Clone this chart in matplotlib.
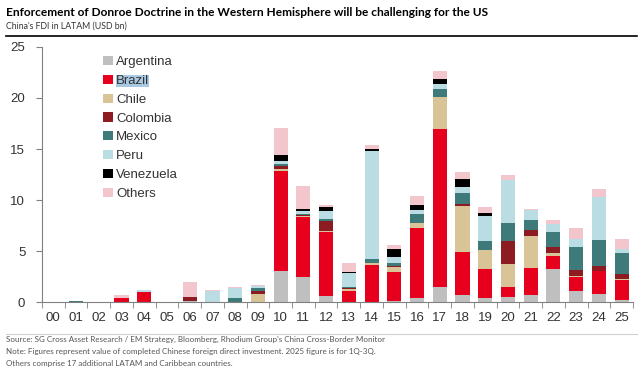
import matplotlib.pyplot as plt
import numpy as np

# Data (USD bn)
years = ["00", "01", "02", "03", "04", "05", "06", "07", "08", "09", "10", "11", "12",
         "13", "14", "15", "16", "17", "18", "19", "20", "21", "22", "23", "24", "25"]

argentina = [0, 0, 0, 0, 0, 0, 0.1, 0, 0, 0, 3.08, 2.49, 0.67,
             0, 0.05, 0.1, 0.4, 1.55, 0.7, 0.4, 0.57, 0.7, 3.3, 1.16, 0.83, 0.2]
brazil = [0, 0, 0, 0.47, 1.03, 0, 0, 0, 0, 0, 9.8, 5.83, 6.2,
          1.12, 3.58, 2.9, 6.9, 15.45, 4.2, 2.87, 0.94, 2.7, 1.24, 1.3, 2.28, 2.0]
chile = [0, 0, 0, 0, 0, 0, 0, 0, 0, 0.8, 0.15, 0.1, 0.15,
         0.17, 0.2, 0.5, 0.43, 3.1, 4.55, 1.86, 2.22, 3.1, 0.26, 0.13, 0, 0.13]
colombia = [0, 0.03, 0, 0, 0, 0, 0.4, 0, 0, 0.35, 0.35, 0.1, 0.9,
            0.1, 0, 0.1, 0, 0, 0.13, 0, 2.27, 0.58, 0.59, 0.58, 0.45, 0.45]
mexico = [0, 0.07, 0, 0, 0, 0, 0, 0.05, 0.4, 0.23, 0.17, 0.15, 0.25,
          0.16, 0.4, 0.3, 0.9, 0.72, 1.14, 0.91, 1.73, 0.98, 1.46, 2.22, 2.54, 2.02]
peru = [0, 0, 0, 0, 0.2, 0, 0, 1.1, 1.05, 0.26, 0.25, 0.3, 0.8,
        1.3, 10.6, 0.5, 0.4, 0.5, 0.58, 2.41, 4.23, 0.97, 0.85, 0.84, 4.17, 0.46]
venezuela = [0, 0, 0, 0, 0, 0, 0, 0, 0, 0, 0.65, 0.2, 0.4,
             0.15, 0.2, 0.8, 0.5, 0.5, 0.73, 0.26, 0, 0, 0, 0, 0, 0]
others = [0, 0, 0, 0.23, 0, 0, 1.5, 0.05, 0.05, 0.11, 2.6, 2.2, 0.2,
          0.83, 0.4, 0.45, 0.92, 0.84, 0.74, 0.65, 0.52, 0.07, 0.33, 1.07, 0.78, 0.98]

series = [
    ("Argentina", argentina, "#bfbfbf"),
    ("Brazil", brazil, "#e6001e"),
    ("Chile", chile, "#d8c496"),
    ("Colombia", colombia, "#8c1c22"),
    ("Mexico", mexico, "#3e7a7a"),
    ("Peru", peru, "#b9dde2"),
    ("Venezuela", venezuela, "#000000"),
    ("Others", others, "#f3c5cd"),
]

fig = plt.figure(figsize=(6.4, 3.68), dpi=100)
ax = fig.add_axes([0.0656, 0.178, 0.9234, 0.695])

x = np.arange(len(years))
bottom = np.zeros(len(years))
for name, vals, col in series:
    ax.bar(x, vals, 0.62, bottom=bottom, color=col, label=name)
    bottom += np.array(vals)

ax.set_xlim(-0.5, len(years) - 0.5)
ax.set_ylim(0, 25)
ax.set_yticks([0, 5, 10, 15, 20, 25])
ax.set_xticks(x)
ax.set_xticklabels(years)
ax.set_xticks(np.arange(-0.5, len(years), 1), minor=True)
ax.tick_params(axis="x", which="major", length=0, pad=7, labelsize=9.5)
ax.tick_params(axis="x", which="minor", length=4, color="#808080")
ax.tick_params(axis="y", length=4, color="#808080", labelsize=9.5, pad=8)
for lab in ax.get_xticklabels() + ax.get_yticklabels():
    lab.set_family("Liberation Sans")
    lab.set_color("#333333")

for s in ["top", "right"]:
    ax.spines[s].set_visible(False)
ax.spines["left"].set_color("#808080")
ax.spines["bottom"].set_color("#808080")

leg = ax.legend(loc="upper left", bbox_to_anchor=(0.095, 0.985), frameon=False,
                prop={"family": "Liberation Sans", "size": 9.5},
                handlelength=0.7, handleheight=0.7, handletextpad=0.25,
                labelspacing=0.5, borderaxespad=0)
for t in leg.get_texts():
    t.set_color("#333333")
leg.get_texts()[1].set_bbox(dict(facecolor="#a9c8e2", edgecolor="none", pad=0.3))

# Titles and notes
fig.text(0.009, 0.966, "Enforcement of Donroe Doctrine in the Western Hemisphere will be challenging for the US",
         fontsize=8.6, fontweight="bold", family="Lato", va="center")
fig.text(0.009, 0.93, "China's FDI in LATAM (USD bn)", fontsize=6.3, family="Lato", va="center",
         color="#333333")
fig.add_artist(plt.Line2D([0.009, 0.995], [0.903, 0.903], color="black", lw=1.2))
fig.add_artist(plt.Line2D([0.009, 0.995], [0.093, 0.093], color="#d0d0d0", lw=0.8))

notes = [
    "Source: SG Cross Asset Research / EM Strategy, Bloomberg, Rhodium Group's China Cross-Border Monitor",
    "Note: Figures represent value of completed Chinese foreign direct investment. 2025 figure is for 1Q-3Q.",
    "Others comprise 17 additional LATAM and Caribbean countries.",
]
for i, n in enumerate(notes):
    fig.text(0.009, 0.078 - i * 0.033, n, fontsize=5.8, family="Lato", va="center", color="#555555")

plt.savefig("out.png", dpi=100)
